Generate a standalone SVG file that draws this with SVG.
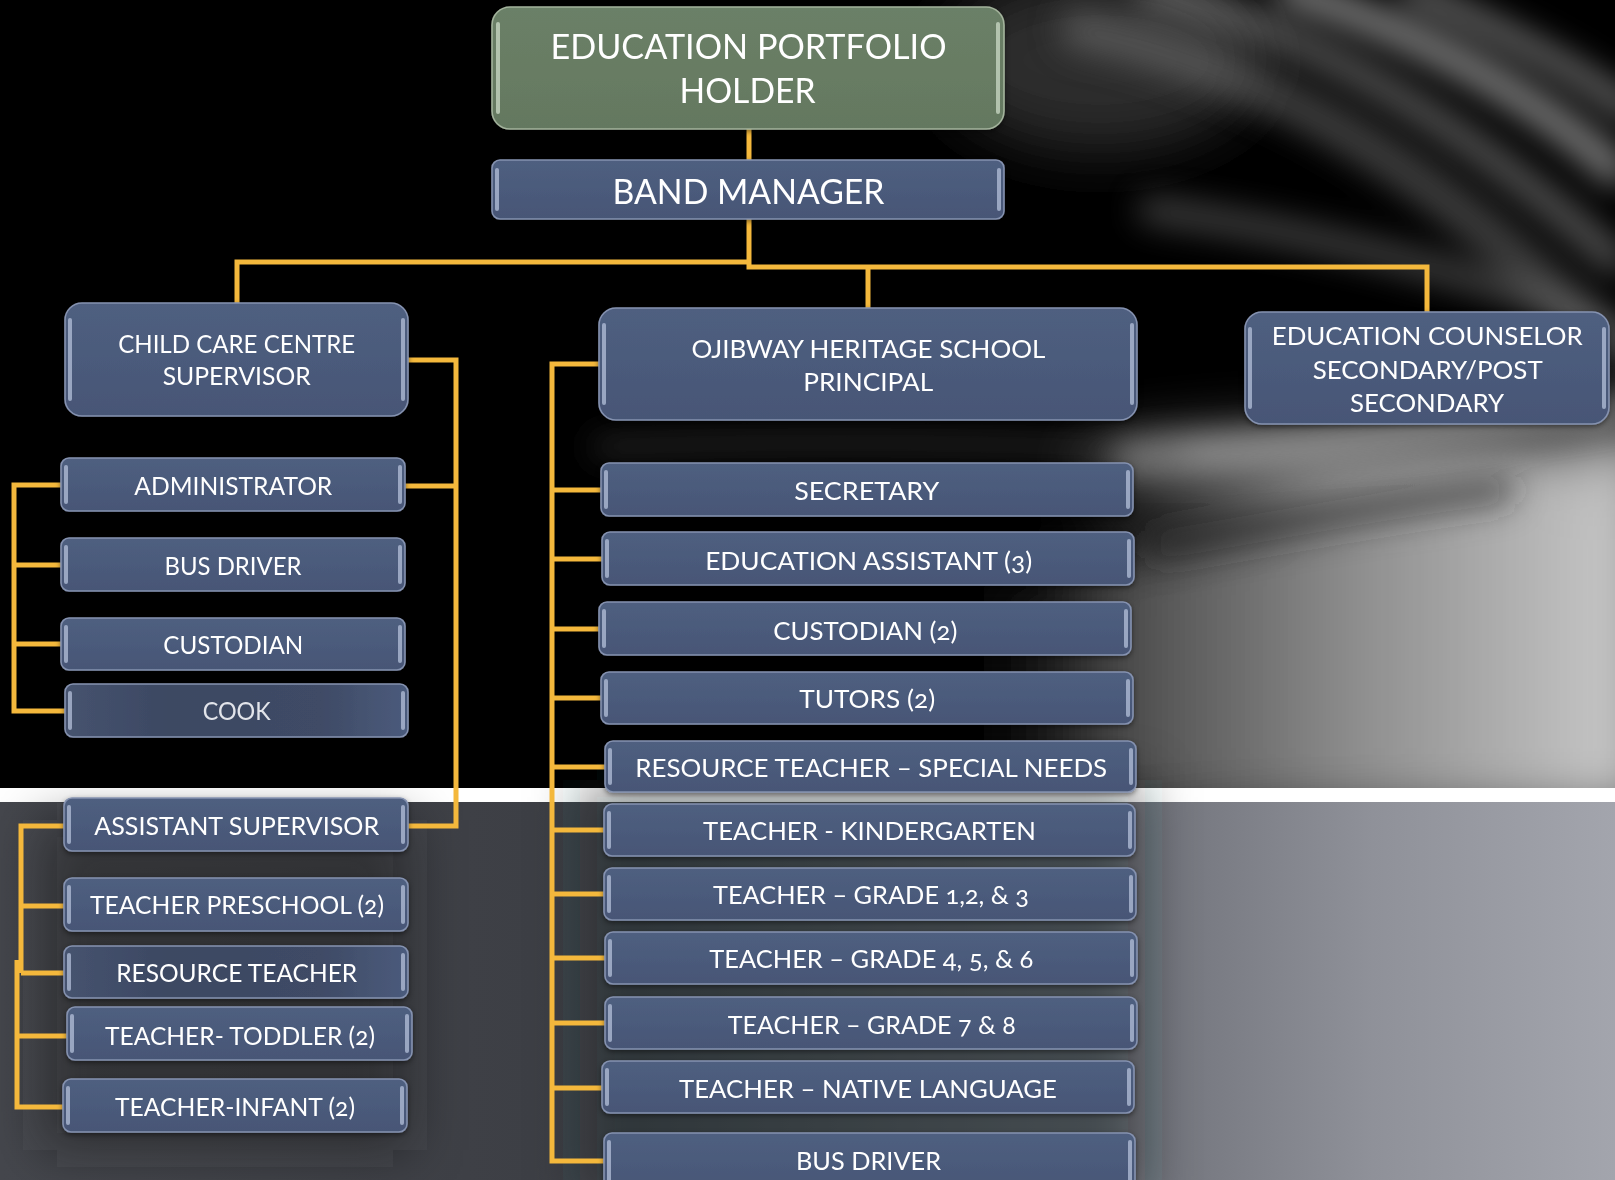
<svg xmlns="http://www.w3.org/2000/svg" width="1615" height="1180" viewBox="0 0 1615 1180">
<defs>
<style>
.box{fill:url(#bf);stroke:#8592b0;stroke-width:1.6}
.boxg{fill:url(#gf);stroke:#a3b39c;stroke-width:1.6}
.hl{fill:#b4c0da;opacity:.75}
.hlg{fill:#c6d4c0;opacity:.8}
.t{font-family:Lato,"Open Sans","DejaVu Sans",sans-serif;fill:#ffffff;text-anchor:middle;font-size:25.5px;font-variant-numeric:oldstyle-nums}
.tb{font-size:35px}
.c{fill:none;stroke:#f4b83c;stroke-width:5;stroke-linejoin:miter}
</style>
<linearGradient id="bf" x1="0" y1="0" x2="0" y2="1">
<stop offset="0" stop-color="#4f5f80"/><stop offset="1" stop-color="#475676"/>
</linearGradient>
<linearGradient id="gf" x1="0" y1="0" x2="0" y2="1">
<stop offset="0" stop-color="#6b8067"/><stop offset="1" stop-color="#647860"/>
</linearGradient>
<linearGradient id="dimf" x1="0" y1="0" x2="1" y2="0">
<stop offset="0" stop-color="#46536f"/><stop offset="0.3" stop-color="#3c4862"/><stop offset="0.75" stop-color="#3f4b66"/><stop offset="1" stop-color="#4b5b7c"/>
</linearGradient>
<linearGradient id="low" x1="0" y1="0" x2="1" y2="0">
<stop offset="0" stop-color="#45474d"/><stop offset="0.33" stop-color="#3d3f45"/><stop offset="0.68" stop-color="#6b6d75"/><stop offset="0.85" stop-color="#8f9199"/><stop offset="1" stop-color="#a3a5ad"/>
</linearGradient>
<linearGradient id="rgt" gradientUnits="userSpaceOnUse" x1="950" y1="0" x2="1615" y2="0">
<stop offset="0" stop-color="#000" stop-opacity="0"/><stop offset="0.25" stop-color="#4a4a4a"/><stop offset="0.6" stop-color="#8c8c8c"/><stop offset="1" stop-color="#c6c6c6"/>
</linearGradient>
<filter id="blur" x="-30%" y="-30%" width="160%" height="160%"><feGaussianBlur stdDeviation="16"/></filter>
<filter id="blur2" x="-30%" y="-30%" width="160%" height="160%"><feGaussianBlur stdDeviation="30"/></filter>
<filter id="blur3" x="-30%" y="-30%" width="160%" height="160%"><feGaussianBlur stdDeviation="26"/></filter>
<filter id="sh" x="-10%" y="-20%" width="120%" height="150%"><feDropShadow dx="0" dy="2" stdDeviation="2.5" flood-color="#000" flood-opacity="0.45"/></filter>
</defs>

<g id="background">
<rect x="0" y="0" width="1615" height="790" fill="#000"/>
<g filter="url(#blur2)">
<path d="M950,600 C1150,540 1400,470 1660,420 L1660,820 L950,820 Z" fill="url(#rgt)"/>
<ellipse cx="1380" cy="465" rx="300" ry="32" fill="#b0b0b0" opacity="0.75"/>
<ellipse cx="1100" cy="60" rx="160" ry="90" fill="#3a3a3a" opacity="0.8"/>
</g>
<g filter="url(#blur)" fill="none" stroke-linecap="round">
<path d="M1080,30 C1270,70 1440,170 1615,350" stroke="#7c7c7c" stroke-width="40" opacity="0.5"/>
<path d="M1150,-10 C1340,40 1495,150 1615,260" stroke="#b8b8b8" stroke-width="26" opacity="0.5"/>
<path d="M1290,-10 C1440,40 1550,110 1615,170" stroke="#dadada" stroke-width="30" opacity="0.6"/>
<path d="M1410,-10 C1500,30 1580,70 1630,110" stroke="#e6e6e6" stroke-width="20" opacity="0.55"/>
<path d="M1150,210 C1300,230 1470,270 1615,330" stroke="#9c9c9c" stroke-width="24" opacity="0.45"/>
<path d="M1130,455 C1300,448 1460,430 1615,405" stroke="#c6c6c6" stroke-width="26" opacity="0.65"/>
<path d="M600,447 C800,440 1000,442 1180,452" stroke="#555" stroke-width="16" opacity="0.55"/>
<path d="M1160,545 C1280,525 1380,505 1500,490" stroke="#2a2a2a" stroke-width="30" opacity="0.6"/>
</g>
<rect x="0" y="801" width="1615" height="379" fill="url(#low)"/>
<rect x="0" y="788" width="1615" height="14" fill="#ffffff"/>
<g filter="url(#blur3)">
<rect x="40" y="820" width="370" height="330" fill="#1f2125" opacity="0.5"/>
<rect x="580" y="780" width="565" height="420" fill="#1c1e22" opacity="0.45"/>
</g>
</g>

<g id="connectors">
<path class="c" d="M749,129 V160"/>
<path class="c" d="M749,219 V267 H1427 V312"/>
<path class="c" d="M868,267 V308"/>
<path class="c" d="M749,262 H237 V303"/>
<path class="c" d="M408,360 H456 V826 H408"/>
<path class="c" d="M456,486 H405"/>
<path class="c" d="M62,485 H14 V711 H65"/>
<path class="c" d="M14,565 H62 M14,644 H62"/>
<path class="c" d="M66,826 H21 V973 M17,960 V1107 H64"/>
<path class="c" d="M21,906 H66 M21,973 H66 M17,1036 H68"/>
<path class="c" d="M599,364 H552 V1161 H604"/>
<path class="c" d="M552,490 H601 M552,559 H602 M552,629 H599 M552,698 H601 M552,767 H605 M552,830 H604 M552,894 H604 M552,958 H605 M552,1023 H605 M552,1088 H602"/>
</g>

<g id="n-portfolio" filter="url(#sh)">
<rect class="boxg" x="492" y="7" width="512" height="122" rx="18"/>
<rect class="hlg" x="496" y="22" width="4" height="92" rx="2"/>
<rect class="hlg" x="996" y="22" width="4" height="92" rx="2"/>
<text class="t tb" x="748.5" y="59" textLength="396" lengthAdjust="spacingAndGlyphs">EDUCATION PORTFOLIO</text>
<text class="t tb" x="747.5" y="103" textLength="136" lengthAdjust="spacingAndGlyphs">HOLDER</text>
</g>

<g id="n-bandmanager" filter="url(#sh)">
<rect class="box" x="492" y="160" width="512" height="59" rx="8"/>
<rect class="hl" x="495" y="168" width="4" height="43" rx="2"/>
<rect class="hl" x="997" y="168" width="4" height="43" rx="2"/>
<text class="t tb" x="748.5" y="204" textLength="272" lengthAdjust="spacingAndGlyphs">BAND MANAGER</text>
</g>

<g id="n-ccc" filter="url(#sh)">
<rect class="box" x="65" y="303" width="343" height="113" rx="17"/>
<rect class="hl" x="68" y="318" width="4" height="83" rx="2"/>
<rect class="hl" x="401" y="318" width="4" height="83" rx="2"/>
<text class="t" x="236.7" y="353" textLength="237" lengthAdjust="spacingAndGlyphs">CHILD CARE CENTRE</text>
<text class="t" x="236.7" y="385" textLength="148" lengthAdjust="spacingAndGlyphs">SUPERVISOR</text>
</g>

<g id="n-ohs" filter="url(#sh)">
<rect class="box" x="599" y="308" width="538" height="112" rx="17"/>
<rect class="hl" x="602" y="323" width="4" height="82" rx="2"/>
<rect class="hl" x="1130" y="323" width="4" height="82" rx="2"/>
<text class="t" x="868.4" y="358" textLength="354" lengthAdjust="spacingAndGlyphs">OJIBWAY HERITAGE SCHOOL</text>
<text class="t" x="868.2" y="391" textLength="130" lengthAdjust="spacingAndGlyphs">PRINCIPAL</text>
</g>

<g id="n-counselor" filter="url(#sh)">
<rect class="box" x="1245" y="312" width="364" height="112" rx="17"/>
<rect class="hl" x="1248" y="327" width="4" height="82" rx="2"/>
<rect class="hl" x="1602" y="327" width="4" height="82" rx="2"/>
<text class="t" x="1427.2" y="345" textLength="311" lengthAdjust="spacingAndGlyphs">EDUCATION COUNSELOR</text>
<text class="t" x="1427.7" y="379" textLength="230" lengthAdjust="spacingAndGlyphs">SECONDARY/POST</text>
<text class="t" x="1427" y="412" textLength="154" lengthAdjust="spacingAndGlyphs">SECONDARY</text>
</g>

<g id="n-administrator" filter="url(#sh)">
<rect class="box" x="61" y="458" width="344" height="53" rx="8"/>
<rect class="hl" x="64" y="465" width="4" height="39" rx="2"/>
<rect class="hl" x="398" y="465" width="4" height="39" rx="2"/>
<text class="t" x="233.3" y="495" textLength="198" lengthAdjust="spacingAndGlyphs">ADMINISTRATOR</text>
</g>

<g id="n-busdriver-ccc" filter="url(#sh)">
<rect class="box" x="61" y="538" width="344" height="53" rx="8"/>
<rect class="hl" x="64" y="545" width="4" height="39" rx="2"/>
<rect class="hl" x="398" y="545" width="4" height="39" rx="2"/>
<text class="t" x="233" y="575" textLength="137" lengthAdjust="spacingAndGlyphs">BUS DRIVER</text>
</g>

<g id="n-custodian-ccc" filter="url(#sh)">
<rect class="box" x="61" y="618" width="344" height="52" rx="8"/>
<rect class="hl" x="64" y="625" width="4" height="38" rx="2"/>
<rect class="hl" x="398" y="625" width="4" height="38" rx="2"/>
<text class="t" x="233.3" y="654" textLength="140" lengthAdjust="spacingAndGlyphs">CUSTODIAN</text>
</g>

<g id="n-cook" filter="url(#sh)">
<rect class="box" x="65" y="684" width="343" height="53" rx="8" style="fill:url(#dimf)"/>
<rect class="hl" x="68" y="691" width="4" height="39" rx="2"/>
<rect class="hl" x="401" y="691" width="4" height="39" rx="2"/>
<text class="t" x="236.7" y="720" textLength="68" lengthAdjust="spacingAndGlyphs" style="fill:#e2e4ea">COOK</text>
</g>

<g id="n-assistant" filter="url(#sh)">
<rect class="box" x="64" y="798" width="344" height="53" rx="8"/>
<rect class="hl" x="67" y="805" width="4" height="39" rx="2"/>
<rect class="hl" x="401" y="805" width="4" height="39" rx="2"/>
<text class="t" x="236.7" y="835" textLength="285" lengthAdjust="spacingAndGlyphs">ASSISTANT SUPERVISOR</text>
</g>

<g id="n-preschool" filter="url(#sh)">
<rect class="box" x="64" y="878" width="344" height="53" rx="8"/>
<rect class="hl" x="67" y="885" width="4" height="39" rx="2"/>
<rect class="hl" x="401" y="885" width="4" height="39" rx="2"/>
<text class="t" x="237" y="914" textLength="294" lengthAdjust="spacingAndGlyphs">TEACHER PRESCHOOL (2)</text>
</g>

<g id="n-resource" filter="url(#sh)">
<rect class="box" x="64" y="946" width="344" height="52" rx="8" style="fill:url(#dimf)"/>
<rect class="hl" x="67" y="953" width="4" height="38" rx="2"/>
<rect class="hl" x="401" y="953" width="4" height="38" rx="2"/>
<text class="t" x="236.7" y="982" textLength="241" lengthAdjust="spacingAndGlyphs">RESOURCE TEACHER</text>
</g>

<g id="n-toddler" filter="url(#sh)">
<rect class="box" x="67" y="1007" width="345" height="53" rx="8"/>
<rect class="hl" x="70" y="1014" width="4" height="39" rx="2"/>
<rect class="hl" x="405" y="1014" width="4" height="39" rx="2"/>
<text class="t" x="240" y="1045" textLength="270" lengthAdjust="spacingAndGlyphs">TEACHER- TODDLER (2)</text>
</g>

<g id="n-infant" filter="url(#sh)">
<rect class="box" x="63" y="1079" width="344" height="53" rx="8"/>
<rect class="hl" x="66" y="1086" width="4" height="39" rx="2"/>
<rect class="hl" x="400" y="1086" width="4" height="39" rx="2"/>
<text class="t" x="235" y="1116" textLength="240" lengthAdjust="spacingAndGlyphs">TEACHER-INFANT (2)</text>
</g>

<g id="n-secretary" filter="url(#sh)">
<rect class="box" x="601" y="463" width="532" height="53" rx="8"/>
<rect class="hl" x="604" y="470" width="4" height="39" rx="2"/>
<rect class="hl" x="1126" y="470" width="4" height="39" rx="2"/>
<text class="t" x="866.7" y="500" textLength="145" lengthAdjust="spacingAndGlyphs">SECRETARY</text>
</g>

<g id="n-eduassistant" filter="url(#sh)">
<rect class="box" x="602" y="532" width="532" height="53" rx="8"/>
<rect class="hl" x="605" y="539" width="4" height="39" rx="2"/>
<rect class="hl" x="1127" y="539" width="4" height="39" rx="2"/>
<text class="t" x="868.7" y="570" textLength="327" lengthAdjust="spacingAndGlyphs">EDUCATION ASSISTANT (3)</text>
</g>

<g id="n-custodian-ohs" filter="url(#sh)">
<rect class="box" x="599" y="602" width="532" height="53" rx="8"/>
<rect class="hl" x="602" y="609" width="4" height="39" rx="2"/>
<rect class="hl" x="1124" y="609" width="4" height="39" rx="2"/>
<text class="t" x="865.3" y="640" textLength="184" lengthAdjust="spacingAndGlyphs">CUSTODIAN (2)</text>
</g>

<g id="n-tutors" filter="url(#sh)">
<rect class="box" x="601" y="672" width="532" height="52" rx="8"/>
<rect class="hl" x="604" y="679" width="4" height="38" rx="2"/>
<rect class="hl" x="1126" y="679" width="4" height="38" rx="2"/>
<text class="t" x="867.2" y="708" textLength="136" lengthAdjust="spacingAndGlyphs">TUTORS (2)</text>
</g>

<g id="n-specialneeds" filter="url(#sh)">
<rect class="box" x="605" y="741" width="531" height="51" rx="8"/>
<rect class="hl" x="608" y="748" width="4" height="37" rx="2"/>
<rect class="hl" x="1129" y="748" width="4" height="37" rx="2"/>
<text class="t" x="871.2" y="777" textLength="472" lengthAdjust="spacingAndGlyphs">RESOURCE TEACHER – SPECIAL NEEDS</text>
</g>

<g id="n-kindergarten" filter="url(#sh)">
<rect class="box" x="604" y="804" width="531" height="52" rx="8"/>
<rect class="hl" x="607" y="811" width="4" height="38" rx="2"/>
<rect class="hl" x="1128" y="811" width="4" height="38" rx="2"/>
<text class="t" x="869.5" y="840" textLength="333" lengthAdjust="spacingAndGlyphs">TEACHER - KINDERGARTEN</text>
</g>

<g id="n-grade123" filter="url(#sh)">
<rect class="box" x="604" y="868" width="532" height="52" rx="8"/>
<rect class="hl" x="607" y="875" width="4" height="38" rx="2"/>
<rect class="hl" x="1129" y="875" width="4" height="38" rx="2"/>
<text class="t" x="871" y="904" textLength="316" lengthAdjust="spacingAndGlyphs">TEACHER – GRADE 1,2, &amp; 3</text>
</g>

<g id="n-grade456" filter="url(#sh)">
<rect class="box" x="605" y="932" width="532" height="52" rx="8"/>
<rect class="hl" x="608" y="939" width="4" height="38" rx="2"/>
<rect class="hl" x="1130" y="939" width="4" height="38" rx="2"/>
<text class="t" x="871.3" y="968" textLength="324" lengthAdjust="spacingAndGlyphs">TEACHER – GRADE 4, 5, &amp; 6</text>
</g>

<g id="n-grade78" filter="url(#sh)">
<rect class="box" x="605" y="997" width="532" height="52" rx="8"/>
<rect class="hl" x="608" y="1004" width="4" height="38" rx="2"/>
<rect class="hl" x="1130" y="1004" width="4" height="38" rx="2"/>
<text class="t" x="871.8" y="1034" textLength="288" lengthAdjust="spacingAndGlyphs">TEACHER – GRADE 7 &amp; 8</text>
</g>

<g id="n-native" filter="url(#sh)">
<rect class="box" x="602" y="1061" width="532" height="52" rx="8"/>
<rect class="hl" x="605" y="1068" width="4" height="38" rx="2"/>
<rect class="hl" x="1127" y="1068" width="4" height="38" rx="2"/>
<text class="t" x="868" y="1098" textLength="378" lengthAdjust="spacingAndGlyphs">TEACHER – NATIVE LANGUAGE</text>
</g>

<g id="n-busdriver-ohs" filter="url(#sh)">
<rect class="box" x="604" y="1133" width="531" height="60" rx="8"/>
<rect class="hl" x="607" y="1140" width="4" height="46" rx="2"/>
<rect class="hl" x="1128" y="1140" width="4" height="46" rx="2"/>
<text class="t" x="868.5" y="1170" textLength="145" lengthAdjust="spacingAndGlyphs">BUS DRIVER</text>
</g>
</svg>
